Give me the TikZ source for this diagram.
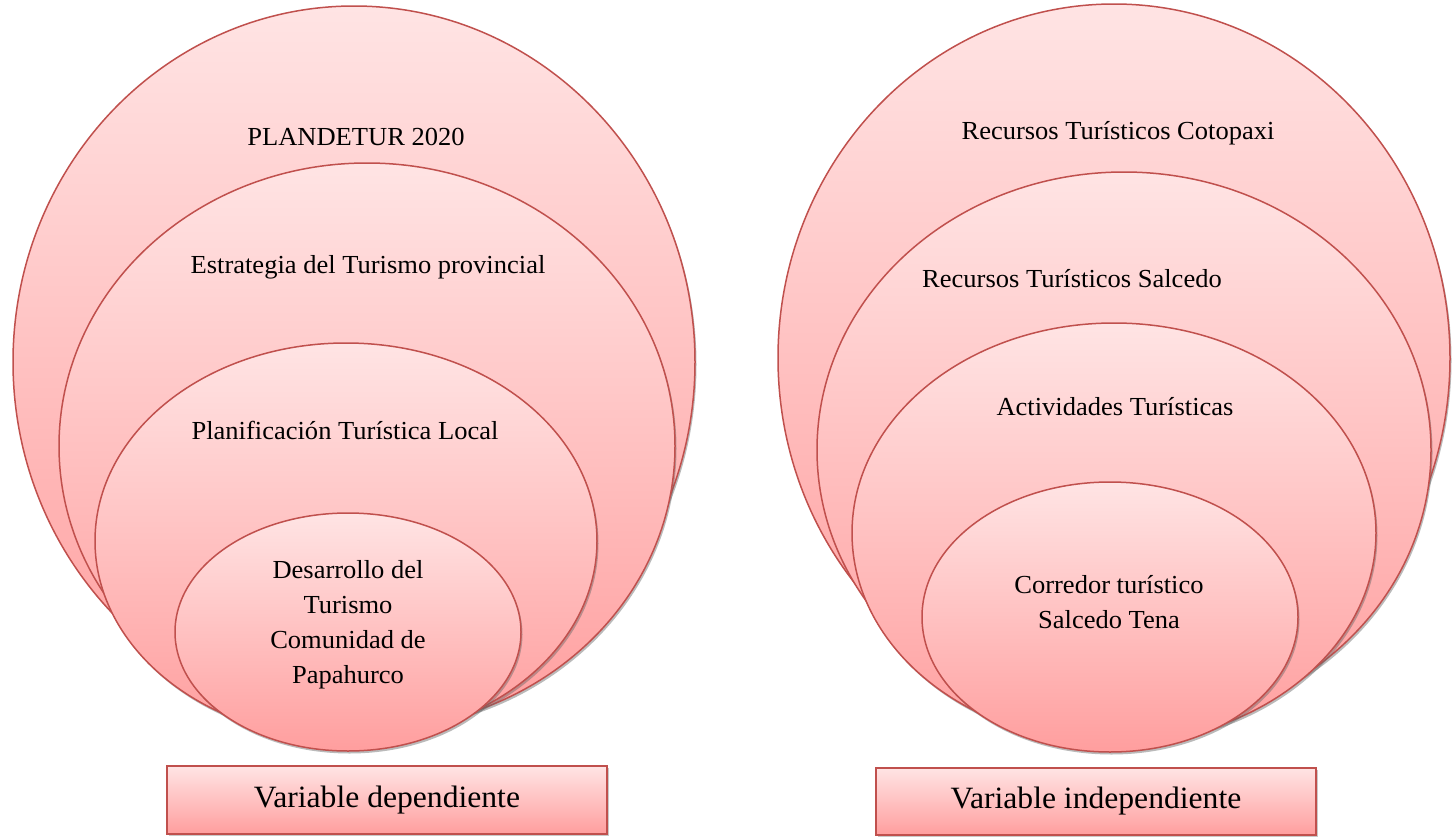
\documentclass[tikz,border=0pt]{standalone}
\usepackage{fontspec}
\setmainfont{Liberation Serif}
\newfontfamily\widefont[FakeStretch=1.02]{Liberation Serif}
\newfontfamily\boxfont[FakeStretch=1.02]{Liberation Serif}
\usetikzlibrary{shapes.geometric,shadows}
\definecolor{edgered}{RGB}{192,80,77}
\definecolor{pinktop}{RGB}{255,228,228}
\definecolor{pinkbot}{RGB}{255,158,158}
\tikzset{
  oval/.style={ellipse, draw=edgered, line width=1.5pt, inner sep=0pt,
    top color=pinktop, bottom color=pinkbot,
    drop shadow={shadow xshift=1.5pt, shadow yshift=-2.5pt, opacity=.45, fill=black!60}},
  varbox/.style={rectangle, draw=edgered, line width=1.6pt, inner sep=0pt,
    top color=pinktop, bottom color=pinkbot,
    drop shadow={shadow xshift=1.5pt, shadow yshift=-2pt, opacity=.35, fill=black!60},
    minimum width=440pt, font=\boxfont\fontsize{31}{34}\selectfont},
  lbl/.style={align=center, inner sep=0pt, font=\widefont\fontsize{26}{35}\selectfont}
}
\begin{document}
\begin{tikzpicture}[x=1pt,y=-1pt]
\useasboundingbox[fill=white] (0,0) rectangle (1452,838);
% left group
\node[oval, minimum width=682pt, minimum height=712pt] (L1) at (354,362) {};
\node[oval, minimum width=616pt, minimum height=566pt] (L2) at (367,446) {};
\node[oval, minimum width=502pt, minimum height=396pt] (L3) at (346,541) {};
\node[oval, minimum width=346pt, minimum height=238pt] (L4) at (348,632) {};
% right group
\node[oval, minimum width=672pt, minimum height=708pt] (R1) at (1114,358) {};
\node[oval, minimum width=614pt, minimum height=556pt] (R2) at (1124,450) {};
\node[oval, minimum width=524pt, minimum height=420pt] (R3) at (1114,533) {};
\node[oval, minimum width=376pt, minimum height=270pt] (R4) at (1110,617) {};
% labels
\node[lbl] (tL1) at (356,137) {PLANDETUR 2020};
\node[lbl] (tL2) at (368,267) {Estrategia del Turismo provincial};
\node[lbl] (tL3) at (345,430) {Planificación Turística Local};
\node[lbl] (tL4) at (348,625) {Desarrollo del\\Turismo\\Comunidad de\\Papahurco};
\node[lbl] (tR1) at (1118,133) {Recursos Turísticos Cotopaxi};
\node[lbl] (tR2) at (1072,279) {Recursos Turísticos Salcedo};
\node[lbl] (tR3) at (1115,407) {Actividades Turísticas};
\node[lbl] (tR4) at (1109,602) {Corredor turístico\\Salcedo Tena};
% boxes
\node[varbox, minimum height=68pt] (bL) at (387,800) {Variable dependiente};
\node[varbox, minimum height=67pt] (bR) at (1096,801.5) {Variable independiente};
\end{tikzpicture}
\end{document}
